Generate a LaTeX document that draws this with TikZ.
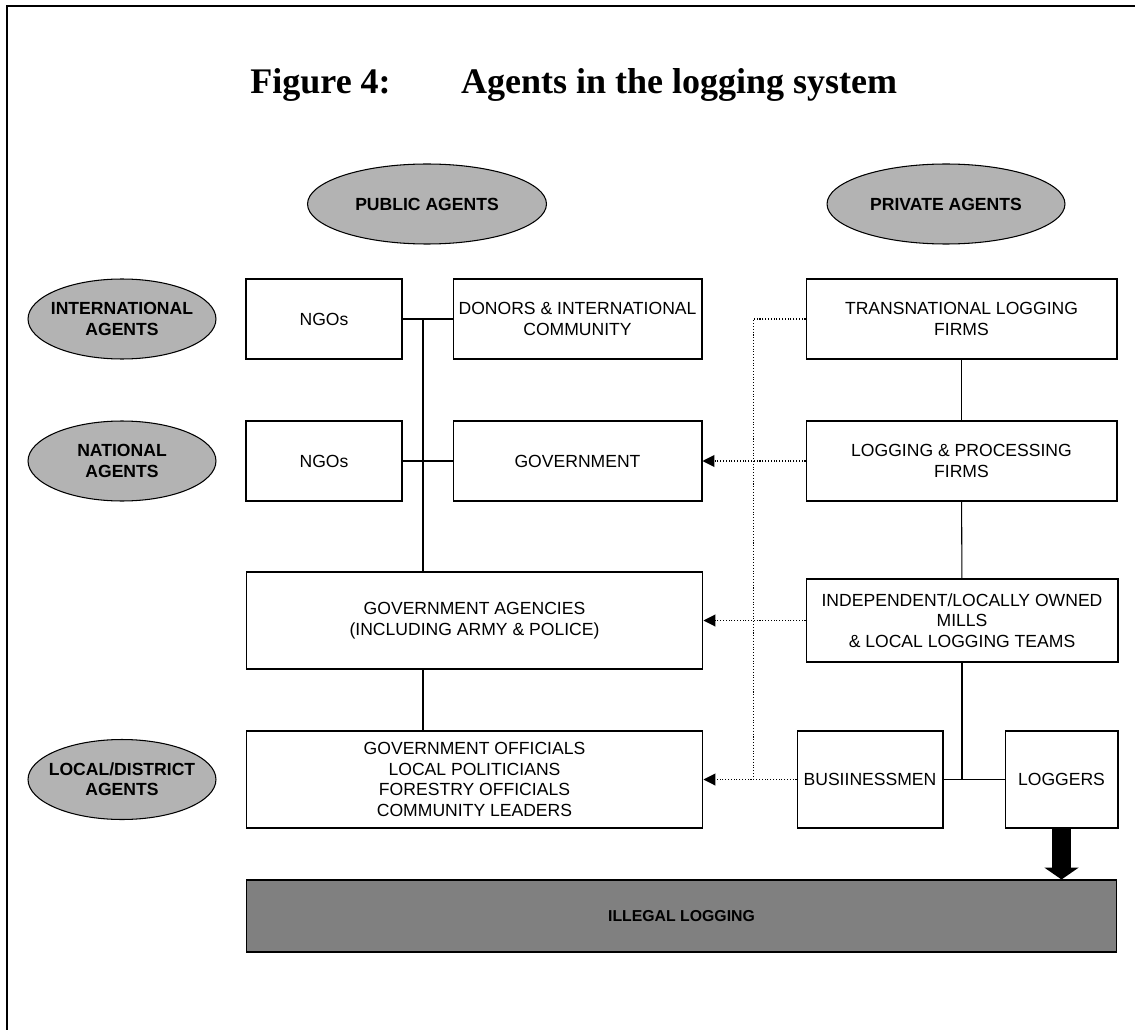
\documentclass[tikz,border=0pt]{standalone}
\usepackage{fontspec}
\setmainfont{Liberation Serif}
\setsansfont{Liberation Sans}
\usetikzlibrary{calc}
\usetikzlibrary{shapes.geometric}
\usetikzlibrary{arrows.meta}

\definecolor{agentgray}{RGB}{179,179,179}
\definecolor{illegalgray}{RGB}{128,128,128}

\begin{document}
\begin{tikzpicture}[x=0.02cm,y=-0.02cm,
    box/.style={draw,line width=0.6pt,align=center,inner sep=1pt,
      font=\sffamily\fontsize{10}{11.8}\selectfont},
    agent/.style={draw,line width=0.6pt,ellipse,fill=agentgray,
      minimum width=#1,minimum height=1.6cm,inner sep=0pt},
    agenttxt/.style={align=center,inner sep=0pt,
      font=\sffamily\bfseries\fontsize{10}{11.5}\selectfont},
    link/.style={line width=0.6pt},
    bribe/.style={line width=0.6pt,densely dotted},
    tip/.style={-{Triangle[length=6.8pt,width=6.8pt]}}]
      \useasboundingbox (0,0) rectangle (1135,1030);
      % frame and title
      \draw[line width=1pt] (7,1030) -- (7,6) -- (1135,6);
      \node[anchor=base west,inner sep=0pt,font=\bfseries\fontsize{20.5}{24}\selectfont] (title) at (250,94) {Figure 4:\hspace{40pt}Agents in the logging system};
      % agent levels
      \node[agent=4.78cm,label={[agenttxt]center:PUBLIC AGENTS}] (public) at (427,204) {};
      \node[agent=4.76cm,label={[agenttxt]center:PRIVATE AGENTS}] (private) at (946,204) {};
      \node[agent=3.76cm,label={[agenttxt]center:INTERNATIONAL\\AGENTS}] (intl) at (122,319) {};
      \node[agent=3.76cm,label={[agenttxt]center:NATIONAL\\AGENTS}] (natl) at (122,461) {};
      \node[agent=3.76cm,label={[agenttxt]center:LOCAL/DISTRICT\\AGENTS}] (local) at (122,779.5) {};
      % boxes
      \node[box,minimum width=3.12cm,minimum height=1.6cm] (ngoint) at (324,319) {NGOs};
      \node[box,minimum width=4.98cm,minimum height=1.6cm] (donors) at (577.5,319) {DONORS \& INTERNATIONAL\\COMMUNITY};
      \node[box,minimum width=6.22cm,minimum height=1.6cm] (trans) at (961.5,319) {TRANSNATIONAL LOGGING\\FIRMS};
      \node[box,minimum width=3.12cm,minimum height=1.6cm] (ngonat) at (324,461) {NGOs};
      \node[box,minimum width=4.98cm,minimum height=1.6cm] (gov) at (577.5,461) {GOVERNMENT};
      \node[box,minimum width=6.22cm,minimum height=1.6cm] (firms) at (961.5,461) {LOGGING \& PROCESSING\\FIRMS};
      \node[box,minimum width=9.14cm,minimum height=1.94cm] (agencies) at (474.5,620.5) {GOVERNMENT AGENCIES\\(INCLUDING ARMY \& POLICE)};
      \node[box,minimum width=6.24cm,minimum height=1.66cm] (mills) at (962,620.5) {INDEPENDENT/LOCALLY OWNED\\MILLS\\\& LOCAL LOGGING TEAMS};
      \node[box,minimum width=9.14cm,minimum height=1.94cm] (officials) at (474.5,779.5) {GOVERNMENT OFFICIALS\\LOCAL POLITICIANS\\FORESTRY OFFICIALS\\COMMUNITY LEADERS};
      \node[box,minimum width=2.92cm,minimum height=1.94cm] (busi) at (870,779.5) {BUSIINESSMEN};
      \node[box,minimum width=2.26cm,minimum height=1.94cm] (loggers) at (1061.5,779.5) {LOGGERS};
      \node[box,fill=illegalgray,minimum width=17.42cm,minimum height=1.44cm,font=\sffamily\bfseries\fontsize{9}{11}\selectfont] (illegal) at (681.5,916) {ILLEGAL LOGGING};
      % public side links
      \coordinate (pubjoin) at ($(ngoint.east)!0.41!(donors.west)$);
      \draw[link] (ngoint) -- (donors);
      \draw[link] (ngonat) -- (gov);
      \draw[link] (pubjoin) -- (pubjoin |- agencies.north);
      \draw[link] (agencies.south -| pubjoin) -- (pubjoin |- officials.north);
      % private side links
      \draw[link] (trans) -- (firms);
      \draw[link] (firms) -- (mills);
      \draw[link] (busi) -- (loggers);
      \draw[link] (mills.south) -- (mills.south |- busi.east);
      % influence
      \draw[bribe] (trans.west) -- ++(-52,0) coordinate (bribetop) -- (bribetop |- busi.west);
      \draw[bribe,tip] (firms) -- (gov);
      \draw[bribe,tip] (mills) -- (agencies);
      \draw[bribe,tip] (busi) -- (officials);
      \draw[line width=11.3pt,-{Triangle[length=6.8pt,width=19.3pt]}] (loggers.south) -- (loggers.south |- illegal.north);
\end{tikzpicture}
\end{document}
